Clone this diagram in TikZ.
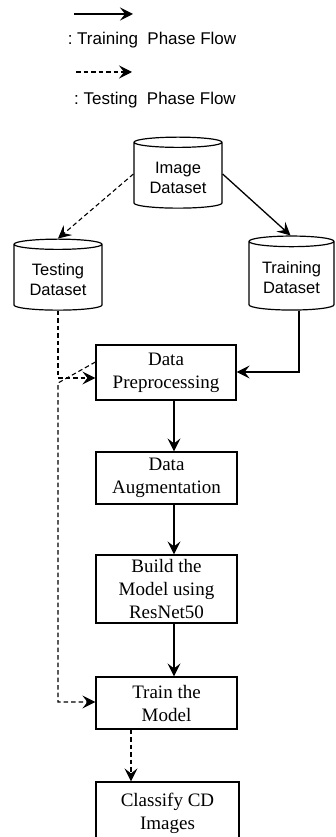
\documentclass[tikz,border=0pt]{standalone}
\usepackage{fontspec}
\setmainfont{Liberation Serif}
\setsansfont{Liberation Sans}
\usetikzlibrary{shapes.geometric,arrows.meta,calc}
\newcommand\dbtext[1]{\raisebox{-8pt}[0pt][0pt]{\begin{tabular}{@{}c@{}}#1\end{tabular}}}
\tikzset{
  tip/.style={-{Stealth[length=13pt,width=13pt,inset=5pt]}},
  flow/.style={tip,line width=1.3pt},
  testflow/.style={tip,line width=1.1pt,dash pattern=on 4.5pt off 3pt},
  box/.style={draw,line width=1.2pt,rectangle,inner sep=0pt,align=center,
    font=\fontsize{19}{23}\selectfont},
  db/.style={draw,line width=1.2pt,cylinder,shape border rotate=90,aspect=0.18,
    inner sep=0pt,font=\sffamily\fontsize{16.5}{20}\selectfont},
  legend/.style={font=\sffamily\fontsize{17}{20}\selectfont,inner sep=0pt}
}
\begin{document}
\begin{tikzpicture}[x=1pt,y=-1pt]
\useasboundingbox (0,0) rectangle (335,837);
% legend
\coordinate (l1a) at (74,14);
\coordinate (l1b) at (133,14);
\coordinate (l2a) at (76,72);
\coordinate (l2b) at (132,72);
\draw[flow] (l1a) -- (l1b);
\node[legend] (lt1) at (152,40) {:\ Training\ \ Phase\ Flow};
\draw[testflow] (l2a) -- (l2b);
\node[legend] (lt2) at (155,100) {:\ Testing\ \ Phase\ Flow};
% datasets
\node[db,minimum width=88pt,minimum height=71pt] (img) at (178,175.5) {\dbtext{Image\\Dataset}};
\node[db,minimum width=88pt,minimum height=71pt] (test) at (58,277.5) {\dbtext{Testing\\Dataset}};
\node[db,minimum width=85pt,minimum height=74pt] (train) at (291.5,276) {\dbtext{Training\\Dataset}};
% process boxes
\node[box,minimum width=140pt,minimum height=55pt] (prep) at (166,372.5) {Data\\Preprocessing};
\node[box,minimum width=141pt,minimum height=52pt] (aug) at (166.5,478) {Data\\Augmentation};
\node[box,minimum width=141pt,minimum height=68pt] (build) at (166.5,589) {Build the\\Model using\\ResNet50};
\node[box,minimum width=141pt,minimum height=52pt] (trm) at (166.5,703) {Train the\\Model};
\node[box,minimum width=143pt,minimum height=62pt] (cls) at (167.5,813) {Classify CD\\Images};
% connectors
\draw[testflow] ([yshift=1.5pt]img.west) -- (test.north);
\draw[flow] ([yshift=1.5pt]img.east) -- ([xshift=-1pt]train.north);
\draw[testflow] (test.south) |- ([yshift=-5.5pt]prep.west);
\draw[flow] ([xshift=7.5pt]train.south) |- ([yshift=0.5pt]prep.east);
\draw[flow] ([xshift=8pt]prep.south) -- ([xshift=7.5pt]aug.north);
\draw[flow] ([xshift=7.5pt]aug.south) -- ([xshift=7.5pt]build.north);
\draw[flow] ([xshift=7.5pt]build.south) -- ([xshift=7.5pt]trm.north);
\coordinate (c1) at (58,383);
\draw[testflow] ([yshift=10.5pt]prep.west) -- (c1) |- ([yshift=1pt]trm.west);
\draw[testflow] ([xshift=-35.5pt]trm.south) -- ([xshift=-36.5pt]cls.north);
\end{tikzpicture}
\end{document}
